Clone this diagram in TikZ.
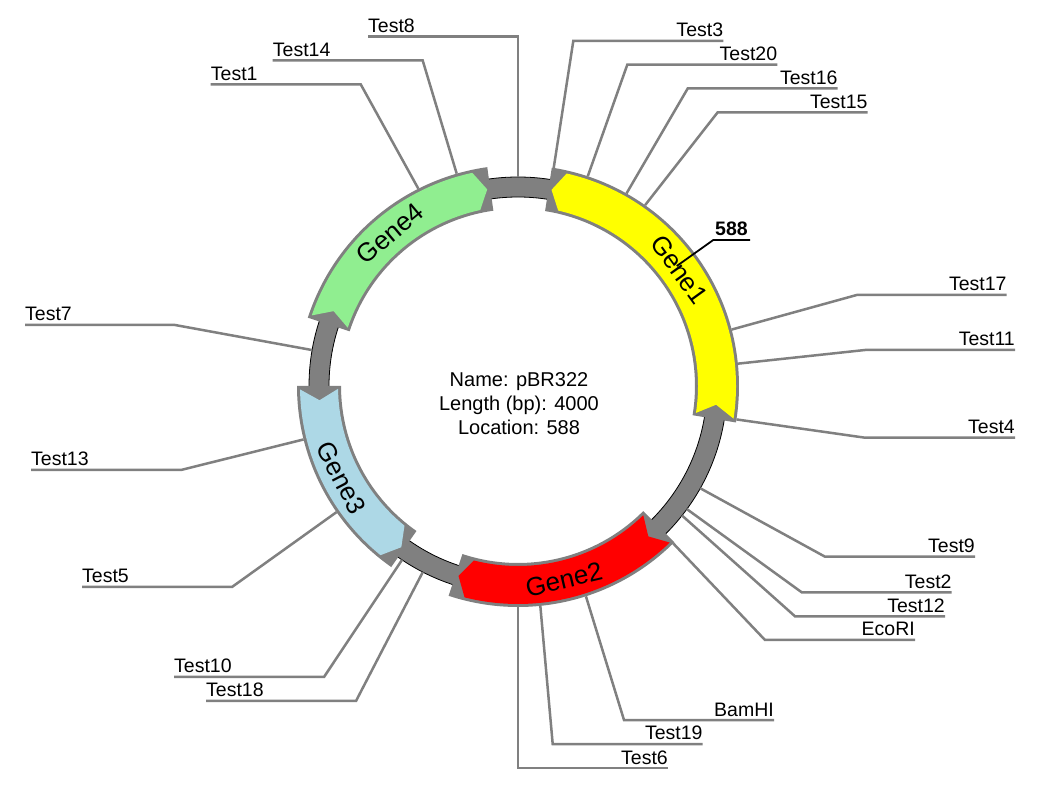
\documentclass[tikz,border=0pt]{standalone}
\usepackage{fontspec}
\setmainfont{Liberation Sans}
\usetikzlibrary{calc}
\definecolor{bbgray}{HTML}{808080}
\definecolor{genegreen}{HTML}{90EE90}
\definecolor{geneblue}{HTML}{ADD8E6}
\definecolor{geneyellow}{HTML}{FFFF00}
\definecolor{genered}{HTML}{FF0000}
\def\plgd{0.9}
\def\plgh{3.2}
\newcommand{\PlGeneBand}[2]{%
  \pgfmathsetmacro{\plA}{90-(#1)}\pgfmathsetmacro{\plB}{90-(#2)}%
  \fill[bbgray] ($(C)+(\plA:221)$) arc[start angle=\plA, end angle=\plB, radius=221]
    -- ($(C)+(\plB:177)$) arc[start angle=\plB, end angle=\plA, radius=177] -- cycle;
}
% head at theta2 (clockwise)
\newcommand{\PlGeneCW}[3]{%
  \PlGeneBand{#1}{#2}%
  \pgfmathsetmacro{\plT}{90-(#1)-\plgd}%
  \pgfmathsetmacro{\plN}{90-(#1)-\plgd-\plgh}%
  \pgfmathsetmacro{\plP}{90-(#2)+\plgd}%
  \pgfmathsetmacro{\plS}{90-(#2)+\plgd+\plgh}%
  \fill[#3] ($(C)+(\plT:218)$) arc[start angle=\plT, end angle=\plS, radius=218]
    -- ($(C)+(\plP:199)$) -- ($(C)+(\plS:180)$)
    arc[start angle=\plS, end angle=\plT, radius=180] -- ($(C)+(\plN:199)$) -- cycle;
}
% head at theta1 (counter-clockwise)
\newcommand{\PlGeneCCW}[3]{%
  \PlGeneBand{#1}{#2}%
  \pgfmathsetmacro{\plP}{90-(#1)-\plgd}%
  \pgfmathsetmacro{\plS}{90-(#1)-\plgd-\plgh}%
  \pgfmathsetmacro{\plT}{90-(#2)+\plgd}%
  \pgfmathsetmacro{\plN}{90-(#2)+\plgd+\plgh}%
  \fill[#3] ($(C)+(\plS:218)$) arc[start angle=\plS, end angle=\plT, radius=218]
    -- ($(C)+(\plN:199)$) -- ($(C)+(\plT:180)$)
    arc[start angle=\plT, end angle=\plS, radius=180] -- ($(C)+(\plP:199)$) -- cycle;
}
\newcommand{\PlLblL}[6]{%
  \coordinate (#1s) at ($(C)+({90-(#3)}:#4)$);
  \coordinate (#1e) at (#5,{804-(#6)});
  \coordinate (#1l) at ({#5-150},{804-(#6)});
  \draw[leader] (#1s) -- (#1e) -- (#1l);
  \node[lbl, anchor=base west] (#1) at ($(#1l)+(0,4)$) {#2};
}
\newcommand{\PlLblR}[6]{%
  \coordinate (#1s) at ($(C)+({90-(#3)}:#4)$);
  \coordinate (#1e) at (#5,{804-(#6)});
  \coordinate (#1r) at ({#5+150},{804-(#6)});
  \draw[leader] (#1s) -- (#1e) -- (#1r);
  \node[lbl, anchor=base east] (#1) at ($(#1r)+(0,4)$) {#2};
}
\begin{document}
\begin{tikzpicture}[x=1pt,y=1pt,
  leader/.style={draw=bbgray, line width=2.5pt},
  lbl/.style={inner sep=0pt, font=\fontsize{19.5}{22}\selectfont},
  genelbl/.style={inner sep=0pt, font=\fontsize{26}{30}\selectfont},
  centertext/.style={inner sep=0pt, align=center, font=\fontsize{20}{24}\selectfont}]
\useasboundingbox (0,0) rectangle (1061,804);
\fill[white] (0,0) rectangle (1061,804);
\coordinate (C) at (518,418);
% backbone
\fill[bbgray, even odd rule] (C) circle[radius=209] (C) circle[radius=189];
\draw[black, line width=0.8pt] (C) circle[radius=209];
\draw[black, line width=0.8pt] (C) circle[radius=189];
% genes
\PlGeneCCW{8.8}{99.5}{geneyellow}
\PlGeneCW{135}{198.3}{genered}
\PlGeneCCW{215}{270}{geneblue}
\PlGeneCW{288}{352}{genegreen}
% gene labels
\node[genelbl, rotate=-54.15] (g1) at ($(C)+({90-54.15}:199)$) {Gene1};
\node[genelbl, rotate=13.35] (g2) at ($(C)+({90-166.65}:199)$) {Gene2};
\node[genelbl, rotate=-62.5] (g3) at ($(C)+({90-242.5}:199)$) {Gene3};
\node[genelbl, rotate=40] (g4) at ($(C)+({90-320}:199)$) {Gene4};
% center text
\node[centertext] (info) at (519,400) {Name: pBR322\\Length (bp): 4000\\Location: 588};
% location marker
\coordinate (locs) at ($(C)+({90-52.92}:199)$);
\coordinate (loce) at (713.3,564);
\coordinate (locr) at (750,564);
\draw[black, line width=1.8pt] (locs) -- (loce) -- (locr);
\node[lbl, anchor=base, font=\fontsize{19.5}{22}\selectfont\bfseries] (loc) at (731.5,568) {588};
% left labels
\PlLblL{t8}{Test8}{0}{209}{518}{36.7}
\PlLblL{t14}{Test14}{343.9}{221}{422.7}{60.5}
\PlLblL{t1}{Test1}{333.2}{221}{360.7}{84.3}
\PlLblL{t7}{Test7}{279.9}{209}{175}{325}
\PlLblL{t13}{Test13}{256}{221}{181}{470}
\PlLblL{t5}{Test5}{235.2}{221}{232}{587}
\PlLblL{t10}{Test10}{213.7}{209}{324}{677}
\PlLblL{t18}{Test18}{207.1}{209}{356}{701}
% right labels
\PlLblR{t3}{Test3}{9.3}{221}{573.3}{41}
\PlLblR{t20}{Test20}{18.4}{221}{627.3}{64.7}
\PlLblR{t16}{Test16}{29.4}{221}{687.7}{88.5}
\PlLblR{t15}{Test15}{35.1}{221}{717.7}{112.3}
\PlLblR{t17}{Test17}{75.2}{221}{856.7}{295}
\PlLblR{t11}{Test11}{84.2}{221}{865}{350}
\PlLblR{t4}{Test4}{98.7}{221}{865}{437.7}
\PlLblR{t9}{Test9}{119.3}{209}{825}{556.7}
\PlLblR{t2}{Test2}{126.1}{209}{801.7}{592.3}
\PlLblR{t12}{Test12}{128.3}{209}{795}{616.3}
\PlLblR{eco}{EcoRI}{135.4}{221}{765}{640}
\PlLblR{bam}{BamHI}{162.1}{221}{624}{720}
\PlLblR{t19}{Test19}{174.2}{221}{552.7}{744}
\PlLblR{t6}{Test6}{180}{221}{518}{768}
\end{tikzpicture}
\end{document}
